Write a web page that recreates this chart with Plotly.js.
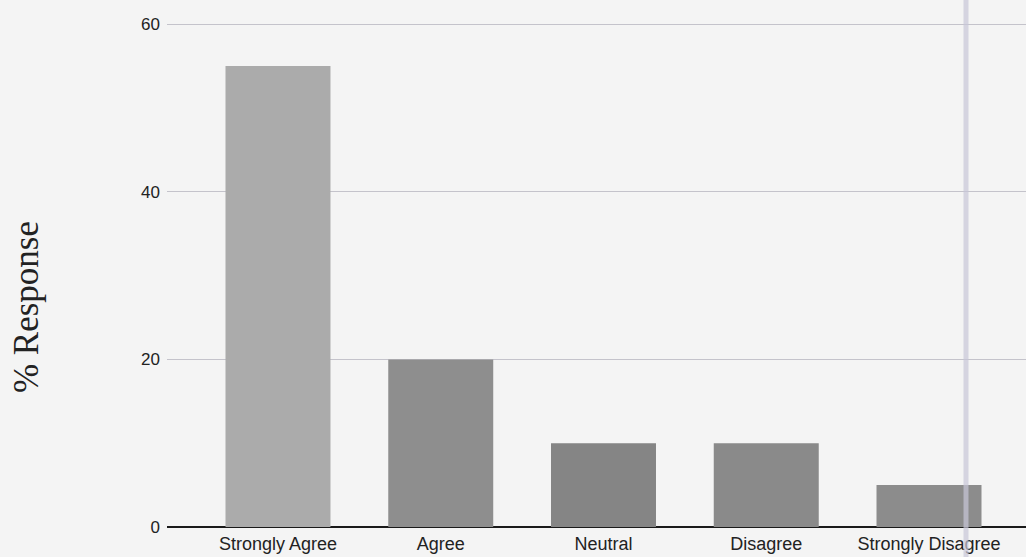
<!DOCTYPE html>
<html>
<head>
<meta charset="utf-8">
<script src="https://cdn.plot.ly/plotly-3.0.1.min.js"></script>
<style>html,body{margin:0;padding:0;background:#f4f4f4;}#chart{width:1026px;height:557px;}</style>
</head>
<body>
<div id="chart"></div>
<script>
const categories = ["Strongly Agree", "Agree", "Neutral", "Disagree", "Strongly Disagree"];
const responses = [55, 20, 10, 10, 5];
const barColors = ["#ababab", "#8e8e8e", "#858585", "#8a8a8a", "#8c8c8c"];
const yTicks = [0, 20, 40, 60];
const yTitle = "% Response";

const trace = {
  type: "bar",
  x: categories.map((c, i) => i),
  y: responses,
  width: 0.645,
  marker: { color: barColors, line: { width: 0 } },
  hoverinfo: "skip"
};

const layout = {
  width: 1026, height: 557,
  margin: { l: 167, r: 0, t: 20, b: 30 },
  paper_bgcolor: "#f4f4f4",
  plot_bgcolor: "#f4f4f4",
  showlegend: false,
  font: { family: "Liberation Sans, Arial, sans-serif", color: "#222" },
  xaxis: {
    range: [-0.682, 4.596],
    tickmode: "array",
    tickvals: categories.map((c, i) => i),
    ticktext: categories,
    tickfont: { size: 18, color: "#222" },
    showgrid: false,
    zeroline: false,
    showline: false,
    ticks: "",
    ticklabelstandoff: 4,
    fixedrange: true
  },
  yaxis: {
    range: [0, 60.5],
    tickmode: "array",
    tickvals: yTicks,
    ticktext: yTicks.map(String),
    tickfont: { size: 17, color: "#222" },
    showgrid: true,
    gridcolor: "#c4c3cb",
    gridwidth: 1,
    zeroline: true,
    zerolinecolor: "#1a1a1a",
    zerolinewidth: 2,
    showline: false,
    ticks: "",
    ticklabelstandoff: 6,
    fixedrange: true
  },
  shapes: [
    { type: "line", xref: "paper", yref: "paper", x0: (966 - 167) / 859, x1: (966 - 167) / 859,
      y0: -0.1, y1: 1.1, line: { color: "rgba(200,198,215,0.7)", width: 5 }, layer: "above" }
  ],
  annotations: [
    { text: yTitle, xref: "paper", yref: "paper", x: (26 - 167) / 859, y: (527 - 307) / 507.2,
      textangle: -90, showarrow: false, xanchor: "center", yanchor: "middle",
      font: { family: "Liberation Serif, Times New Roman, serif", size: 35, color: "#222" } }
  ]
};

Plotly.newPlot("chart", [trace], layout, { displayModeBar: false, staticPlot: true });
</script>
</body>
</html>
